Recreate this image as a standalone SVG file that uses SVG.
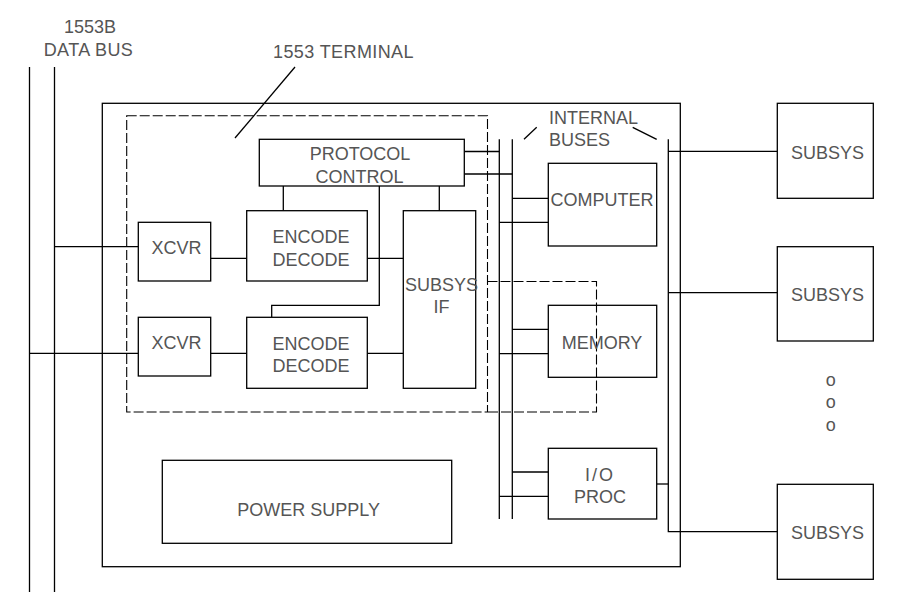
<svg xmlns="http://www.w3.org/2000/svg" width="907" height="602" viewBox="0 0 907 602">
<style>
.b{fill:#fff;stroke:#000;stroke-width:1.3}
.l{fill:none;stroke:#000;stroke-width:1.3}
.d{fill:none;stroke:#000;stroke-width:1.1;stroke-dasharray:10,3}
text{font-family:"Liberation Sans",Arial,sans-serif;font-size:18px;fill:#555}
.m{text-anchor:middle}
</style>
<rect width="907" height="602" fill="#fff"/>
<g id="labels">
<text class="m" x="90" y="33">1553B</text>
<text class="m" x="88.5" y="56" letter-spacing="0.4">DATA BUS</text>
<text x="273" y="58" letter-spacing="0.4">1553 TERMINAL</text>
<text x="549" y="124">INTERNAL</text>
<text x="549" y="146">BUSES</text>
<text class="m" x="830.7" y="386" font-size="16">o</text>
<text class="m" x="830.7" y="408.3" font-size="16">o</text>
<text class="m" x="830.7" y="431" font-size="16">o</text>
</g>
<g id="unit">
<rect class="l" x="102.3" y="103.3" width="578" height="463.4"/>
</g>
<g id="terminal">
<rect class="d" x="126.7" y="115.7" width="360.8" height="296.3"/>
<path class="d" d="M487.5,281.5 H596.5 V412 H487.5"/>
</g>
<g id="connectors">
<line class="l" x1="29.5" y1="67" x2="29.5" y2="592"/>
<line class="l" x1="54.5" y1="67" x2="54.5" y2="592"/>
<line class="l" x1="295" y1="67" x2="235" y2="138"/>
<line class="l" x1="536.7" y1="127.3" x2="524" y2="139.3"/>
<line class="l" x1="632.7" y1="127.3" x2="656.7" y2="139.3"/>
<line class="l" x1="499.3" y1="139.3" x2="499.3" y2="519"/>
<line class="l" x1="512.3" y1="139.3" x2="512.3" y2="519"/>
<path class="l" d="M668.3,139.3 V531.7 H777.3"/>
<line class="l" x1="54.5" y1="246.7" x2="138.3" y2="246.7"/>
<line class="l" x1="29.5" y1="353.3" x2="138.3" y2="353.3"/>
<line class="l" x1="210.7" y1="258.3" x2="246.7" y2="258.3"/>
<line class="l" x1="210.7" y1="353.3" x2="246.7" y2="353.3"/>
<line class="l" x1="367.3" y1="258.3" x2="403.3" y2="258.3"/>
<line class="l" x1="367.3" y1="353.3" x2="403.3" y2="353.3"/>
<line class="l" x1="283.3" y1="186" x2="283.3" y2="210.7"/>
<line class="l" x1="439.3" y1="186" x2="439.3" y2="210.7"/>
<path class="l" d="M379.3,186 V305.3 H271.7 V317.3"/>
<line class="l" x1="464.3" y1="151.5" x2="499.3" y2="151.5"/>
<line class="l" x1="464.3" y1="174" x2="512.3" y2="174"/>
<line class="l" x1="512.3" y1="198.3" x2="548.3" y2="198.3"/>
<line class="l" x1="499.3" y1="222.3" x2="548.3" y2="222.3"/>
<line class="l" x1="512.3" y1="329.3" x2="548.3" y2="329.3"/>
<line class="l" x1="499.3" y1="353.7" x2="548.3" y2="353.7"/>
<line class="l" x1="512.3" y1="472" x2="548.3" y2="472"/>
<line class="l" x1="499.3" y1="496.3" x2="548.3" y2="496.3"/>
<line class="l" x1="656.7" y1="484" x2="668.3" y2="484"/>
<line class="l" x1="668.3" y1="151.3" x2="777.3" y2="151.3"/>
<line class="l" x1="668.3" y1="292.7" x2="777.3" y2="292.7"/>
</g>
<g id="protocol">
<rect class="b" x="259.3" y="139.3" width="205" height="46.7"/>
<text class="m" x="360" y="160">PROTOCOL</text>
<text class="m" x="359.5" y="182.7">CONTROL</text>
</g>
<g id="xcvr1">
<rect class="b" x="138.3" y="222.3" width="72.4" height="58.7"/>
<text class="m" x="176.5" y="254">XCVR</text>
</g>
<g id="xcvr2">
<rect class="b" x="138.3" y="317.3" width="72.4" height="58.7"/>
<text class="m" x="176.5" y="349">XCVR</text>
</g>
<g id="encdec1">
<rect class="b" x="246.7" y="210.7" width="120.6" height="70.3"/>
<text class="m" x="311" y="243.3">ENCODE</text>
<text class="m" x="311" y="265.7">DECODE</text>
</g>
<g id="encdec2">
<rect class="b" x="246.7" y="317.3" width="120.6" height="71"/>
<text class="m" x="311" y="350">ENCODE</text>
<text class="m" x="311" y="372.3">DECODE</text>
</g>
<g id="subsysif">
<rect class="l" x="403.3" y="210.7" width="72.4" height="177.6"/>
<text class="m" x="441.5" y="290.7">SUBSYS</text>
<text class="m" x="441.5" y="312.7">IF</text>
</g>
<g id="computer">
<rect class="l" x="548.3" y="163.3" width="108.4" height="82.7"/>
<text class="m" x="602" y="206">COMPUTER</text>
</g>
<g id="memory">
<rect class="l" x="548.3" y="305.3" width="108.4" height="72"/>
<text class="m" x="602" y="349.3">MEMORY</text>
</g>
<g id="ioproc">
<rect class="b" x="548.3" y="448.3" width="108.4" height="70.7"/>
<text class="m" x="600" y="481" letter-spacing="2">I/O</text>
<text class="m" x="600" y="503.3">PROC</text>
</g>
<g id="power">
<rect class="b" x="162.3" y="460.3" width="289.4" height="83"/>
<text class="m" x="308.7" y="515.7">POWER SUPPLY</text>
</g>
<g id="subsys1">
<rect class="b" x="777.3" y="103.3" width="96" height="95"/>
<text class="m" x="827.5" y="159">SUBSYS</text>
</g>
<g id="subsys2">
<rect class="b" x="777.3" y="246.7" width="96" height="94.3"/>
<text class="m" x="827.5" y="301">SUBSYS</text>
</g>
<g id="subsys3">
<rect class="b" x="777.3" y="484.3" width="96" height="95"/>
<text class="m" x="827.5" y="539.3">SUBSYS</text>
</g>
</svg>
